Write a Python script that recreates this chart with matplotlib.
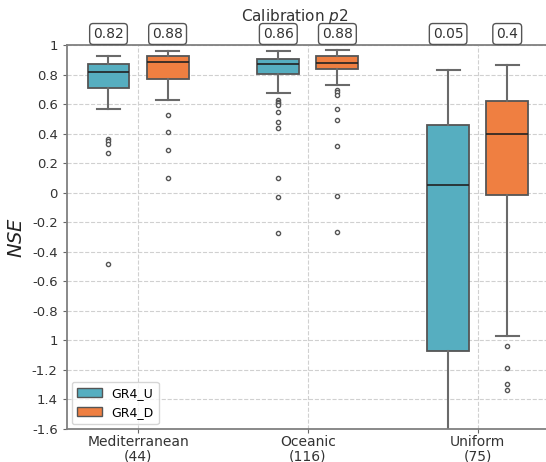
import matplotlib
matplotlib.use("Agg")
import matplotlib.pyplot as plt

# climate groups and models
categories = ["Mediterranean\n(44)", "Oceanic\n(116)", "Uniform\n(75)"]
models = ["GR4_U", "GR4_D"]

# box statistics, [Mediterranean, Oceanic, Uniform]
med_u = [0.819, 0.871, 0.050]
q1_u = [0.712, 0.804, -1.074]
q3_u = [0.870, 0.905, 0.460]
wlo_u = [0.566, 0.675, -1.75]
whi_u = [0.928, 0.959, 0.831]
fliers_u = [
    [0.366, 0.348, 0.332, 0.271, -0.485],
    [0.626, 0.616, 0.605, 0.592, 0.544, 0.477, 0.440, 0.100, -0.027, -0.271],
    [],
]

med_d = [0.883, 0.880, 0.395]
q1_d = [0.772, 0.840, -0.013]
q3_d = [0.928, 0.926, 0.623]
wlo_d = [0.630, 0.729, -0.972]
whi_d = [0.959, 0.966, 0.862]
fliers_d = [
    [0.528, 0.409, 0.289, 0.097],
    [0.695, 0.684, 0.661, 0.569, 0.490, 0.318, -0.024, -0.266],
    [-1.038, -1.187, -1.293, -1.336],
]

# labels written above each box
median_labels_u = ["0.82", "0.86", "0.05"]
median_labels_d = ["0.88", "0.88", "0.4"]

yticks = [1, 0.8, 0.6, 0.4, 0.2, 0, -0.2, -0.4, -0.6, -0.8, -1.0, -1.2, -1.4, -1.6]
ytick_labels = ["1", "0.8", "0.6", "0.4", "0.2", "0", "-0.2", "-0.4", "-0.6",
                "-0.8", "1", "-1.2", "1.4", "-1.6"]

colors = ["#56aec0", "#ef7f41"]
offset = 0.174
box_w = 0.247


def make_stats(med, q1, q3, wlo, whi, fl):
    return [dict(med=m, q1=a, q3=b, whislo=lo, whishi=hi, fliers=f)
            for m, a, b, lo, hi, f in zip(med, q1, q3, wlo, whi, fl)]


fig = plt.figure(figsize=(5.46, 4.62), dpi=100)
ax = fig.add_axes([0.1222, 0.0714, 0.878, 0.8312])

ax.grid(True, linestyle="--", color="#d0d0d0", linewidth=0.8)
ax.set_axisbelow(True)

groups = [
    make_stats(med_u, q1_u, q3_u, wlo_u, whi_u, fliers_u),
    make_stats(med_d, q1_d, q3_d, wlo_d, whi_d, fliers_d),
]
pos_list = []
for k, stats in enumerate(groups):
    pos = [i + (-offset if k == 0 else offset) for i in range(len(categories))]
    pos_list.append(pos)
    ax.bxp(stats, positions=pos, widths=box_w, patch_artist=True,
           boxprops=dict(facecolor=colors[k], edgecolor="#555555", linewidth=1.3),
           medianprops=dict(color="#222222", linewidth=1.2),
           whiskerprops=dict(color="#6a6a6a", linewidth=1.5),
           capprops=dict(color="#6a6a6a", linewidth=1.5),
           capwidths=box_w * 0.55,
           flierprops=dict(marker="o", markersize=3, markerfacecolor="white",
                           markeredgecolor="#555555", markeredgewidth=1.0))

ax.set_xlim(-0.42, 2.403)
ax.set_ylim(-1.6, 1.0)
ax.set_xticks(range(len(categories)))
ax.set_xticklabels(categories, fontsize=10, color="#333333", linespacing=1.0)
ax.set_yticks(yticks)
ax.set_yticklabels(ytick_labels, fontsize=9.5, color="#333333")
ax.tick_params(colors="#666666", labelcolor="#333333", length=3)
ax.tick_params(axis="x", pad=1.5)
for side in ["left", "bottom", "top"]:
    ax.spines[side].set_color("#808080")
    ax.spines[side].set_linewidth(1.3)
ax.spines["right"].set_visible(False)

ax.set_ylabel("$NSE$", fontsize=14, color="#222222", labelpad=4)

# median labels above the axes
for pos, labs in zip(pos_list, [median_labels_u, median_labels_d]):
    for p, t in zip(pos, labs):
        ax.text(p, 1.0 + 11 / 147.7, t, ha="center", va="center", fontsize=10,
                color="#333333", transform=ax.transData, clip_on=False,
                bbox=dict(boxstyle="round,pad=0.25", facecolor="white",
                          edgecolor="#555555", linewidth=1.0))

fig.text(295 / 546, 1 - 17 / 462, "Calibration $p2$", ha="center", va="center",
         fontsize=11, color="#333333")

handles = [plt.Rectangle((0, 0), 1, 1, facecolor=c, edgecolor="#555555") for c in colors]
ax.legend(handles, models, loc="lower left", fontsize=9, frameon=True,
          borderaxespad=0.4, handlelength=2.0, edgecolor="#cccccc")

fig.savefig("out.png", dpi=100)
